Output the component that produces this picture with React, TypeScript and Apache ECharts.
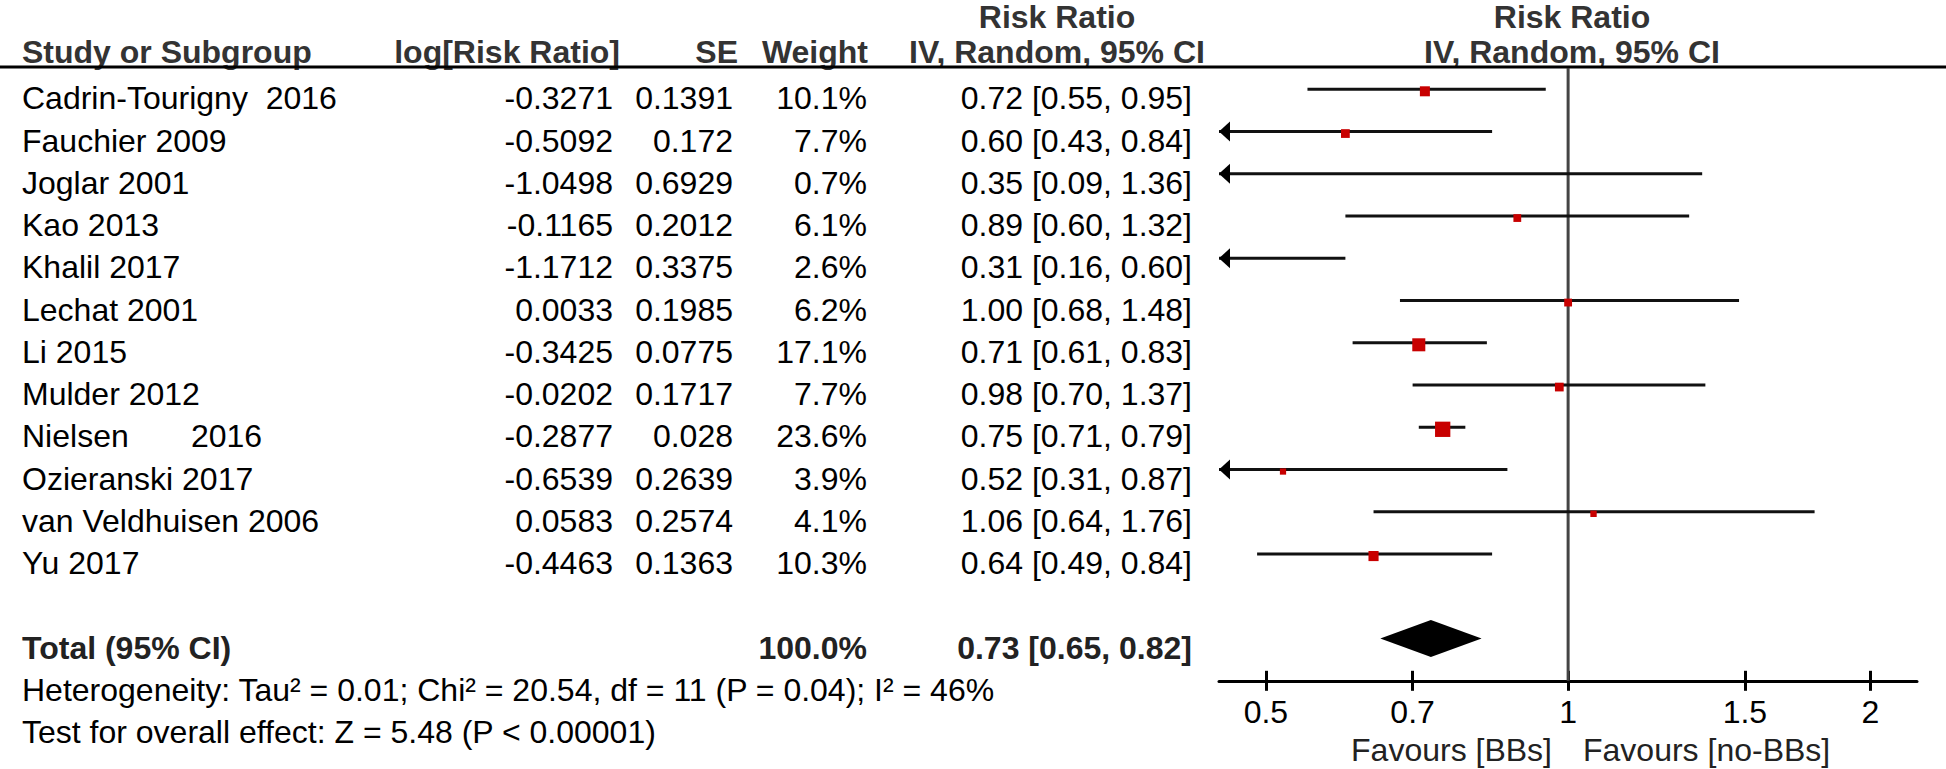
import React, { useEffect, useRef } from "react";
import * as echarts from "echarts";

// ---------------- data ----------------
const STUDIES = [
  "Cadrin-Tourigny\u00A0\u00A02016",
  "Fauchier 2009",
  "Joglar 2001",
  "Kao 2013",
  "Khalil 2017",
  "Lechat 2001",
  "Li 2015",
  "Mulder 2012",
  "Nielsen\u00A0\u00A0\u00A0\u00A0\u00A0\u00A0\u00A02016",
  "Ozieranski 2017",
  "van Veldhuisen 2006",
  "Yu 2017",
];
const LOG_RR = [-0.3271, -0.5092, -1.0498, -0.1165, -1.1712, 0.0033, -0.3425, -0.0202, -0.2877, -0.6539, 0.0583, -0.4463];
const SE = [0.1391, 0.172, 0.6929, 0.2012, 0.3375, 0.1985, 0.0775, 0.1717, 0.028, 0.2639, 0.2574, 0.1363];
const WEIGHT = [10.1, 7.7, 0.7, 6.1, 2.6, 6.2, 17.1, 7.7, 23.6, 3.9, 4.1, 10.3];
const RR = [0.72, 0.6, 0.35, 0.89, 0.31, 1.0, 0.71, 0.98, 0.75, 0.52, 1.06, 0.64];
const LOWER = [0.55, 0.43, 0.09, 0.6, 0.16, 0.68, 0.61, 0.7, 0.71, 0.31, 0.64, 0.49];
const UPPER = [0.95, 0.84, 1.36, 1.32, 0.6, 1.48, 0.83, 1.37, 0.79, 0.87, 1.76, 0.84];

const TOTAL_LABEL = "Total (95% CI)";
const TOTAL_WEIGHT = 100.0;
const TOTAL_RR = [0.73, 0.65, 0.82]; // estimate, lower, upper

const FOOTER = [
  "Heterogeneity: Tau\u00B2 = 0.01; Chi\u00B2 = 20.54, df = 11 (P = 0.04); I\u00B2 = 46%",
  "Test for overall effect: Z = 5.48 (P < 0.00001)",
];

const X_TICKS = [0.5, 0.7, 1, 1.5, 2];
const X_RANGE = [0.449, 2.226];
const FAVOURS = ["Favours [BBs]", "Favours [no-BBs]"];

// ---------------- layout ----------------
const W = 1946;
const H = 769;
const ROW0 = 89.3;
const ROW_H = 42.25;
const TEXT_DY = 9;
const PLOT_LEFT = 1219;
const PLOT_RIGHT = 1917;
const FONT = '"Liberation Sans", Arial, Helvetica, sans-serif';
const FS = 32;
const COL = { name: 22, logRR: 613, se: 733, weight: 867, ci: 1192 };
const TOTAL_ROW = 13;
const FOOTER_ROW = 14;

const LN_MIN = Math.log(X_RANGE[0]);
const LN_MAX = Math.log(X_RANGE[1]);

const gridTop = ROW0 - 0.5 * ROW_H;
const gridBottomY = ROW0 + 14 * ROW_H;

function fmtCI(r: number, l: number, u: number) {
  return `${r.toFixed(2)} [${l.toFixed(2)}, ${u.toFixed(2)}]`;
}

function txt(text: string, x: number, y: number, align: string, opts: any = {}) {
  return {
    type: "text",
    x,
    y,
    style: {
      text,
      textAlign: align,
      textVerticalAlign: "middle",
      fontSize: opts.fontSize || FS,
      fontFamily: FONT,
      fontWeight: opts.bold ? "bold" : "normal",
      fill: opts.fill || "#000",
    },
  };
}

export default function App() {
  const ref = useRef<HTMLDivElement>(null);

  useEffect(() => {
    if (!ref.current) return;
    const chart = echarts.init(ref.current, undefined, { renderer: "svg", width: W, height: H });

    const tableRows = STUDIES.map((_, i) => [i]);
    const ciData = STUDIES.map((_, i) => [i, Math.log(RR[i]), Math.log(LOWER[i]), Math.log(UPPER[i]), WEIGHT[i]]);

    const headerColor = "#333";
    const midHeaderX = 1057;
    const rightHeaderX = 1572;

    const option: any = {
      animation: false,
      backgroundColor: "#fff",
      grid: [
        { left: 0, width: PLOT_LEFT, top: gridTop, height: gridBottomY - gridTop, containLabel: false },
        { left: PLOT_LEFT, width: PLOT_RIGHT - PLOT_LEFT, top: gridTop, height: gridBottomY - gridTop, containLabel: false },
      ],
      xAxis: [
        { gridIndex: 0, type: "value", min: 0, max: PLOT_LEFT, show: false },
        {
          gridIndex: 1,
          type: "value",
          min: LN_MIN,
          max: LN_MAX,
          position: "bottom",
          axisLine: { show: true, onZero: false, lineStyle: { color: "#000", width: 3 } },
          axisTick: {
            show: true,
            inside: false,
            length: 10,
            customValues: X_TICKS.map((t) => Math.log(t)),
            lineStyle: { color: "#000", width: 3 },
          },
          axisLabel: {
            show: true,
            customValues: X_TICKS.map((t) => Math.log(t)),
            formatter: (v: number) => {
              const t = X_TICKS.find((k) => Math.abs(Math.log(k) - v) < 1e-6);
              return t === undefined ? "" : String(t);
            },
            fontSize: FS,
            fontFamily: FONT,
            color: "#000",
            margin: 15,
          },
          splitLine: { show: false },
        },
        {
          gridIndex: 1,
          type: "value",
          min: LN_MIN,
          max: LN_MAX,
          position: "bottom",
          offset: 0,
          axisLine: { show: false, onZero: false },
          axisTick: {
            show: true,
            inside: true,
            length: 10,
            customValues: X_TICKS.map((t) => Math.log(t)),
            lineStyle: { color: "#000", width: 3 },
          },
          axisLabel: { show: false },
          splitLine: { show: false },
        },
      ],
      yAxis: [
        { gridIndex: 0, type: "value", min: -0.5, max: 14, inverse: true, show: false },
        { gridIndex: 1, type: "value", min: -0.5, max: 14, inverse: true, show: false },
      ],
      graphic: [
        { type: "line", shape: { x1: 0, y1: 67, x2: W, y2: 67 }, style: { stroke: "#000", lineWidth: 3 }, z: 10 },
        txt("Risk Ratio", midHeaderX, 17, "center", { bold: true, fill: headerColor }),
        txt("Risk Ratio", rightHeaderX, 17, "center", { bold: true, fill: headerColor }),
        txt("Study or Subgroup", COL.name, 52, "left", { bold: true, fill: headerColor }),
        txt("log[Risk Ratio]", 620, 52, "right", { bold: true, fill: headerColor }),
        txt("SE", 738, 52, "right", { bold: true, fill: headerColor }),
        txt("Weight", 868, 52, "right", { bold: true, fill: headerColor }),
        txt("IV, Random, 95% CI", midHeaderX, 52, "center", { bold: true, fill: headerColor }),
        txt("IV, Random, 95% CI", rightHeaderX, 52, "center", { bold: true, fill: headerColor }),
        txt(FAVOURS[0], 1552, 750, "right", { fill: "#222" }),
        txt(FAVOURS[1], 1583, 750, "left", { fill: "#222" }),
      ],
      series: [
        // table of studies
        {
          type: "custom",
          xAxisIndex: 0,
          yAxisIndex: 0,
          clip: false,
          data: tableRows,
          renderItem: (_p: any, api: any) => {
            const i = api.value(0);
            const y = api.coord([0, i])[1] + TEXT_DY;
            const cx = (v: number) => api.coord([v, i])[0];
            return {
              type: "group",
              children: [
                txt(STUDIES[i], cx(COL.name), y, "left"),
                txt(String(LOG_RR[i]), cx(COL.logRR), y, "right"),
                txt(String(SE[i]), cx(COL.se), y, "right"),
                txt(WEIGHT[i].toFixed(1) + "%", cx(COL.weight), y, "right"),
                txt(fmtCI(RR[i], LOWER[i], UPPER[i]), cx(COL.ci), y, "right"),
              ],
            };
          },
        },
        // total row text
        {
          type: "custom",
          xAxisIndex: 0,
          yAxisIndex: 0,
          clip: false,
          data: [[TOTAL_ROW]],
          renderItem: (_p: any, api: any) => {
            const i = api.value(0);
            const y = api.coord([0, i])[1] + TEXT_DY;
            const cx = (v: number) => api.coord([v, i])[0];
            return {
              type: "group",
              children: [
                txt(TOTAL_LABEL, cx(COL.name), y, "left", { bold: true, fill: "#222" }),
                txt(TOTAL_WEIGHT.toFixed(1) + "%", cx(COL.weight), y, "right", { bold: true, fill: "#222" }),
                txt(fmtCI(TOTAL_RR[0], TOTAL_RR[1], TOTAL_RR[2]), cx(COL.ci), y, "right", { bold: true, fill: "#222" }),
              ],
            };
          },
        },
        // footer
        {
          type: "custom",
          xAxisIndex: 0,
          yAxisIndex: 0,
          clip: false,
          data: FOOTER.map((_, k) => [FOOTER_ROW + k, k]),
          renderItem: (_p: any, api: any) => {
            const i = api.value(0);
            const k = api.value(1);
            const y = api.coord([0, i])[1] + TEXT_DY;
            return txt(FOOTER[k], api.coord([COL.name, i])[0], y, "left");
          },
        },
        // reference line at RR = 1
        {
          type: "line",
          xAxisIndex: 1,
          yAxisIndex: 1,
          data: [
            [0, -0.5],
            [0, 14],
          ],
          showSymbol: false,
          symbol: "none",
          lineStyle: { color: "#444", width: 3 },
          z: 1,
          silent: true,
        },
        // CIs and squares
        {
          type: "custom",
          xAxisIndex: 1,
          yAxisIndex: 1,
          clip: false,
          z: 3,
          data: ciData,
          renderItem: (_p: any, api: any) => {
            const i = api.value(0);
            const est = api.value(1);
            const lo = api.value(2);
            const hi = api.value(3);
            const w = api.value(4);
            const pL = api.coord([Math.max(lo, LN_MIN), i]);
            const pH = api.coord([Math.min(hi, LN_MAX), i]);
            const children: any[] = [
              {
                type: "line",
                shape: { x1: pL[0], y1: pL[1], x2: pH[0], y2: pH[1] },
                style: { stroke: "#111", lineWidth: 3 },
              },
            ];
            if (lo < LN_MIN) {
              children.push({
                type: "polygon",
                shape: { points: [[pL[0], pL[1]], [pL[0] + 11, pL[1] - 10], [pL[0] + 11, pL[1] + 10]] },
                style: { fill: "#000" },
              });
            }
            if (hi > LN_MAX) {
              children.push({
                type: "polygon",
                shape: { points: [[pH[0], pH[1]], [pH[0] - 11, pH[1] - 10], [pH[0] - 11, pH[1] + 10]] },
                style: { fill: "#000" },
              });
            }
            if (est >= LN_MIN && est <= LN_MAX) {
              const p = api.coord([est, i]);
              const s = 3.15 * Math.sqrt(w);
              children.push({
                type: "rect",
                shape: { x: p[0] - s / 2, y: p[1] - s / 2 + 2, width: s, height: s },
                style: { fill: "#c80000" },
              });
            }
            return { type: "group", children };
          },
        },
        // pooled diamond
        {
          type: "custom",
          xAxisIndex: 1,
          yAxisIndex: 1,
          clip: false,
          z: 3,
          data: [[TOTAL_ROW, Math.log(TOTAL_RR[0]), Math.log(TOTAL_RR[1]), Math.log(TOTAL_RR[2])]],
          renderItem: (_p: any, api: any) => {
            const i = api.value(0);
            const c = api.coord([api.value(1), i]);
            const l = api.coord([api.value(2), i]);
            const r = api.coord([api.value(3), i]);
            const h = 18.5;
            return {
              type: "polygon",
              shape: { points: [[l[0], l[1]], [c[0], c[1] - h], [r[0], r[1]], [c[0], c[1] + h]] },
              style: { fill: "#000" },
            };
          },
        },
      ],
    };

    chart.setOption(option);
    return () => chart.dispose();
  }, []);

  return (
    <div
      ref={ref}
      style={{ position: "fixed", left: 0, top: 0, width: W, height: H, background: "#fff" }}
    />
  );
}
